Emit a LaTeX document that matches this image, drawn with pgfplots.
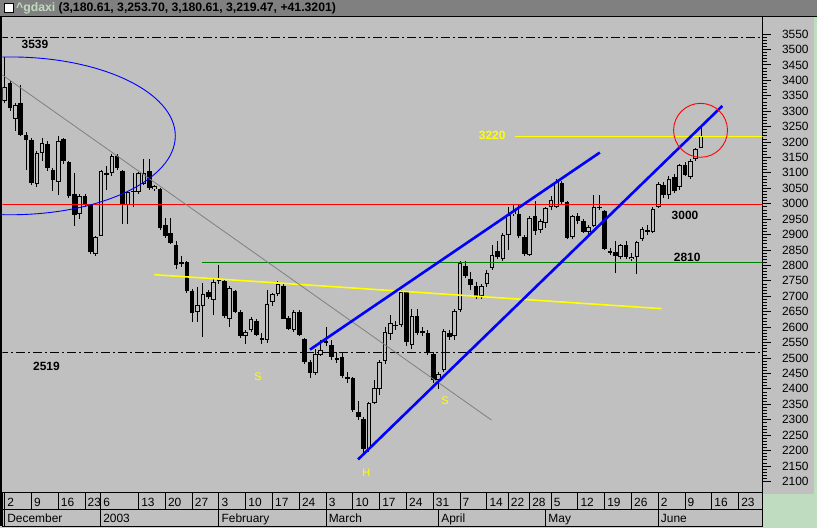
\documentclass[border=0pt]{standalone}
\usepackage{fontspec}
\setmainfont{Liberation Sans}
\usepackage{pgfplots}
\usepackage{pgfplotstable}
\pgfplotsset{compat=1.18}

\definecolor{panel}{HTML}{C0C0C0}
\definecolor{titlebar}{HTML}{808080}
\definecolor{mint}{HTML}{C0DCC0}
\definecolor{lineblue}{HTML}{0000FF}
\definecolor{linered}{HTML}{FF0000}
\definecolor{trendgray}{HTML}{808080}
\definecolor{levelgreen}{HTML}{008000}
\definecolor{hiyellow}{HTML}{FFFF00}

% daily candles, i = trading day counted from 2 Dec 2002
\pgfplotstableread{
i o h l c
0 3333 3476 3327 3378
1 3391 3399 3300 3310
2 3274 3328 3237 3320
3 3328 3385 3220 3223
4 3223 3232 3110 3207
5 3207 3212 3060 3067
6 3064 3170 3055 3166
7 3164 3213 3137 3196
8 3194 3202 3105 3115
9 3110 3117 3040 3078
10 3072 3218 3029 3204
11 3210 3213 3130 3139
12 3135 3140 3020 3024
13 3032 3099 2927 2962
14 2968 3030 2950 3026
15 3024 3030 2990 2997
16 2995 3000 2838 2842
17 2837 2895 2830 2892
18 2897 3110 2895 3107
19 3099 3121 3045 3094
20 3099 3160 3090 3156
21 3155 3160 3110 3115
22 3107 3110 2934 2995
23 2995 3040 2935 3038
24 3040 3099 2990 3042
25 3038 3102 3030 3099
26 3065 3146 3060 3099
27 3107 3146 3045 3051
28 3049 3062 3040 3056
29 3049 3052 2915 2921
30 2930 2955 2890 2894
31 2905 2955 2868 2873
32 2865 2880 2790 2803
33 2806 2830 2795 2811
34 2811 2815 2710 2716
35 2718 2725 2616 2646
36 2648 2730 2616 2673
37 2668 2743 2567 2709
38 2713 2720 2690 2697
39 2687 2760 2640 2747
40 2756 2803 2740 2749
41 2751 2755 2630 2635
42 2627 2735 2600 2727
43 2716 2722 2645 2649
44 2649 2655 2565 2570
45 2571 2590 2545 2585
46 2592 2632 2585 2627
47 2621 2625 2570 2574
48 2565 2580 2545 2557
49 2558 2720 2550 2676
50 2681 2712 2670 2709
51 2709 2750 2700 2741
52 2735 2740 2625 2627
53 2630 2635 2590 2594
54 2592 2655 2585 2649
55 2649 2655 2570 2574
56 2562 2565 2480 2488
57 2488 2495 2436 2452
58 2452 2530 2445 2514
59 2511 2560 2505 2527
60 2555 2602 2538 2552
61 2541 2560 2495 2502
62 2500 2520 2485 2495
63 2502 2520 2435 2441
64 2439 2455 2420 2434
65 2436 2440 2325 2331
66 2324 2360 2300 2310
67 2301 2310 2188 2206
68 2206 2358 2195 2355
69 2355 2430 2350 2404
70 2398 2495 2380 2488
71 2490 2600 2480 2585
72 2578 2640 2560 2614
73 2606 2620 2590 2606
74 2606 2720 2600 2713
75 2713 2718 2540 2551
76 2541 2660 2530 2635
77 2635 2660 2575 2581
78 2587 2600 2570 2581
79 2581 2590 2510 2519
80 2514 2520 2420 2430
81 2428 2455 2401 2449
82 2460 2595 2455 2589
83 2581 2590 2560 2568
84 2570 2658 2560 2651
85 2655 2815 2650 2808
86 2799 2815 2760 2767
87 2757 2780 2720 2736
88 2732 2745 2690 2700
89 2700 2740 2690 2735
90 2740 2785 2730 2776
91 2792 2865 2785 2835
92 2846 2880 2820 2827
93 2821 2905 2815 2900
94 2900 2990 2850 2964
95 2968 3000 2960 2975
96 2968 2995 2890 2894
97 2892 2900 2830 2838
98 2835 2960 2830 2954
99 2959 3010 2900 2913
100 2916 2950 2905 2943
101 2937 2990 2920 2986
102 2991 3025 2980 3013
103 2991 3080 2985 3069
104 3067 3075 3000 3007
105 3005 3010 2885 2889
106 2892 2965 2885 2959
107 2961 2970 2935 2943
108 2943 2950 2905 2910
109 2907 2930 2900 2925
110 2929 3029 2925 2989
111 2991 3027 2980 2986
112 2977 2980 2850 2853
113 2848 2855 2835 2840
114 2844 2878 2776 2832
115 2827 2870 2820 2867
116 2867 2880 2820 2827
117 2821 2840 2815 2829
118 2827 2880 2773 2875
119 2886 2925 2880 2918
120 2914 2930 2900 2907
121 2908 2990 2905 2984
122 2989 3070 2985 3064
123 3062 3070 3020 3027
124 3027 3090 3015 3081
125 3086 3095 3035 3040
126 3054 3130 3045 3126
127 3126 3135 3090 3094
128 3086 3145 3080 3139
129 3145 3180 3140 3177
130 3180.61 3253.70 3180.61 3219.47
}\candles

\begin{document}
\begin{tikzpicture}
% window chrome, in screen pixels (y grows downwards)
\begin{scope}[x=1bp, y=-1bp, yshift=529bp]
  \fill[mint] (0,0) rectangle (817,529);
  \fill[panel] (0,16) rectangle (814,495);
  \fill[panel] (0,493) rectangle (763,527);
  \fill[titlebar] (0,0) rectangle (817,16);
  \draw[black, line width=1bp] (0,16.5) -- (817,16.5);
  \draw[black, line width=1.2bp] (0.6,16) -- (0.6,527);
  \filldraw[fill=white, draw=black, line width=0.8bp] (3.5,3.5) rectangle (12.5,12.5);
  \node[anchor=west, inner sep=0pt, font=\bfseries\fontsize{12.3}{14}\selectfont]
    at (15.5,8.5) {\textcolor{mint}{\textasciicircum gdaxi} (3,180.61, 3,253.70, 3,180.61, 3,219.47, +41.3201)};
\end{scope}

\begin{axis}[
  name=main, at={(2bp,36bp)}, anchor=south west,
  scale only axis, width=761bp, height=476bp,
  xmin=-0.406, xmax=141.48, ymin=2064.5, ymax=3605.3,
  axis x line=none, axis y line=right,
  axis line style={-, black, line width=1bp},
  ytick={2100,2150,...,3550}, minor y tick num=4,
  tick align=outside, major tick length=8bp, minor tick length=4bp,
  every tick/.style={black, line width=0.8bp},
  yticklabel style={font=\fontsize{12}{14}\selectfont, anchor=west, xshift=8bp},
  /pgf/number format/assume math mode=true,
  /pgf/number format/1000 sep={},
  axis background/.style={fill=panel},
]
% wicks
\addplot[forget plot, draw=none, mark=none,
  error bars/.cd, y dir=both, y explicit, error mark=none,
  error bar style={draw=black, line width=1bp}]
  table[x=i, y expr={(\thisrow{h}+\thisrow{l})/2}, y error expr={(\thisrow{h}-\thisrow{l})/2}] {\candles};
% bodies
\addplot[forget plot, draw=none, mark=none,
  error bars/.cd, y dir=both, y explicit, error mark=none,
  error bar style={draw=black, line width=4.6bp}]
  table[x=i, y expr={(\thisrow{o}+\thisrow{c})/2}, y error expr={max(abs(\thisrow{c}-\thisrow{o})/2,1.6)}] {\candles};
% hollow inside of rising candles
\addplot[forget plot, draw=none, mark=none,
  error bars/.cd, y dir=both, y explicit, error mark=none,
  error bar style={draw=panel, line width=2.6bp}]
  table[x=i, y expr={(\thisrow{o}+\thisrow{c})/2}, y error expr={max((\thisrow{c}-\thisrow{o})/2-3.24,0)}] {\candles};

% levels (values nudged by half a pixel so the 1px lines sit on a pixel row)
\addplot[black, line width=1bp, dash pattern=on 9bp off 3bp on 2bp off 3bp] coordinates {(-1,3539) (142,3539)};
\addplot[black, line width=1bp, dash pattern=on 9bp off 3bp on 2bp off 3bp] coordinates {(-1,2519.3) (142,2519.3)};
\addplot[draw=linered, line width=1.2bp] coordinates {(-1,2998.4) (142,2998.4)};
\addplot[draw=levelgreen, line width=1bp] coordinates {(36.9,2809.4) (142,2809.4)};
\addplot[draw=hiyellow, line width=1.2bp] coordinates {(95.2,3218.5) (142,3218.5)};
% trend lines
\addplot[draw=hiyellow, line width=1.6bp] coordinates {(27.93,2770) (122.65,2660)};
\addplot[draw=trendgray, line width=0.8bp] coordinates {(-0.46,3417.6) (90.9,2298.6)};
\addplot[draw=lineblue, line width=2.6bp] coordinates {(57.0,2527.4) (111.1,3166)};
\addplot[draw=lineblue, line width=2.6bp] coordinates {(65.97,2171.3) (133.96,3317)};

\draw[lineblue, line width=0.9bp] (axis cs:1.09,3220) ellipse [x radius=165bp, y radius=79bp];
\draw[linered, line width=0.9bp] (axis cs:129.9,3238) circle [radius=27bp];

\node[font=\bfseries\fontsize{12}{14}\selectfont] at (axis cs:5.65,3516) {3539};
\node[font=\bfseries\fontsize{12}{14}\selectfont] at (axis cs:7.8,2472) {2519};
\node[font=\bfseries\fontsize{12}{14}\selectfont] at (axis cs:127.0,2963) {3000};
\node[font=\bfseries\fontsize{12}{14}\selectfont] at (axis cs:127.4,2827) {2810};
\node[text=hiyellow, font=\bfseries\fontsize{12}{14}\selectfont] at (axis cs:91.0,3223) {3220};
\node[text=hiyellow, font=\fontsize{11}{13}\selectfont] at (axis cs:47.3,2440) {S};
\node[text=hiyellow, font=\fontsize{11}{13}\selectfont] at (axis cs:67.5,2129) {H};
\node[text=hiyellow, font=\fontsize{11}{13}\selectfont] at (axis cs:82.2,2362) {S};
\end{axis}

% week row of the date scale
\begin{axis}[
  at={(2bp,19bp)}, anchor=south west,
  scale only axis, width=761bp, height=17bp,
  xmin=-0.406, xmax=141.48, ymin=0, ymax=1,
  ytick=\empty,
  xtick={0,5,10,15,17.9,25,30,35,40,45,50,55,60,65,70,75,80,85,90,94,98,102,107,112,117,122,127,132,137},
  xticklabels={2,9,16,23,6,13,20,27,3,10,17,24,3,10,17,24,31,7,14,22,28,5,12,19,26,2,9,16,23},
  xmajorgrids, grid style={black, line width=1bp}, major tick length=0pt,
  xticklabel style={anchor=base west, inner sep=0pt, xshift=2.5bp, yshift=3bp, font=\fontsize{12}{14}\selectfont},
  axis line style={black, line width=1bp},
  axis background/.style={fill=panel},
]
\addplot[draw=none] coordinates {(0,0.5)};
\end{axis}

% month row of the date scale
\begin{axis}[
  at={(2bp,2bp)}, anchor=south west,
  scale only axis, width=761bp, height=17bp,
  xmin=-0.406, xmax=141.48, ymin=0, ymax=1,
  ytick=\empty,
  xtick={0,17.9,40,60,81,101,122},
  xticklabels={December,2003,February,March,April,May,June},
  xmajorgrids, grid style={black, line width=1bp}, major tick length=0pt,
  xticklabel style={anchor=base west, inner sep=0pt, xshift=2.5bp, yshift=4bp, font=\fontsize{12}{14}\selectfont},
  axis line style={black, line width=1bp},
  axis background/.style={fill=panel},
]
\addplot[draw=none] coordinates {(0,0.5)};
\end{axis}
\end{tikzpicture}
\end{document}
